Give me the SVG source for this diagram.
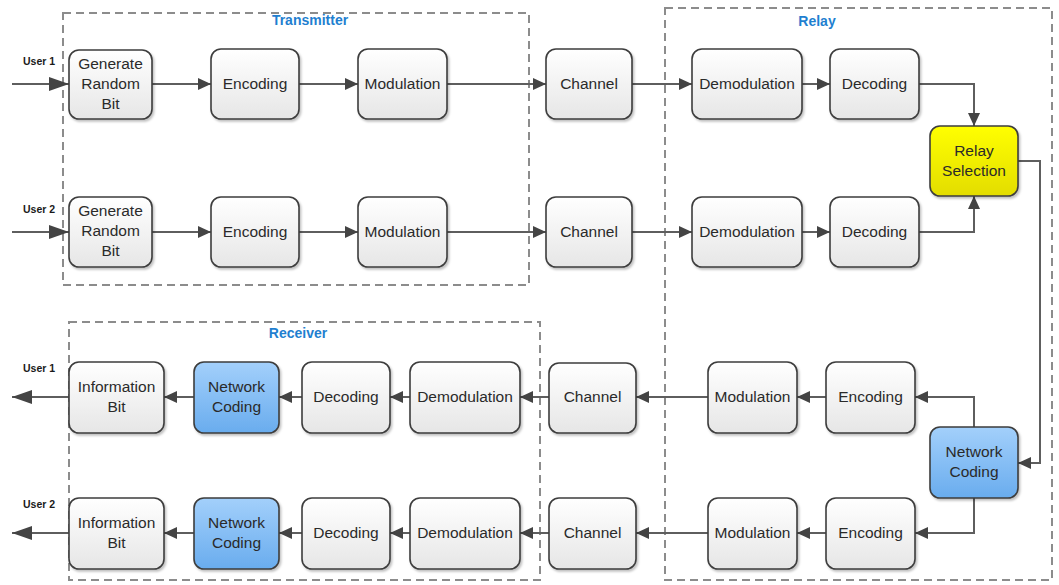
<svg xmlns="http://www.w3.org/2000/svg" width="1059" height="585" viewBox="0 0 1059 585">
<defs>
<linearGradient id="gGrey" x1="0" y1="0" x2="0" y2="1"><stop offset="0" stop-color="#ffffff"/><stop offset="1" stop-color="#e6e6e6"/></linearGradient>
<linearGradient id="gBlue" x1="0" y1="0" x2="0" y2="1"><stop offset="0" stop-color="#a3d0fb"/><stop offset="1" stop-color="#69acee"/></linearGradient>
<linearGradient id="gYellow" x1="0" y1="0" x2="0" y2="1"><stop offset="0" stop-color="#ffff00"/><stop offset="1" stop-color="#e3dd00"/></linearGradient>
<filter id="sh" x="-10%" y="-10%" width="130%" height="130%"><feDropShadow dx="1.5" dy="2" stdDeviation="1.2" flood-color="#000" flood-opacity="0.25"/></filter>
<marker id="arr" markerUnits="userSpaceOnUse" markerWidth="13" markerHeight="12" refX="13" refY="6" orient="auto"><path d="M0,0 L13,6 L0,12 z" fill="#444"/></marker>
<marker id="arrBig" markerUnits="userSpaceOnUse" markerWidth="20" markerHeight="14" refX="20" refY="7" orient="auto"><path d="M0,0 L20,7 L0,14 z" fill="#444"/></marker>
</defs>
<style>
.box{stroke:#3d3d3d;stroke-width:1.6;filter:url(#sh)}
.g{fill:url(#gGrey)}
.b{fill:url(#gBlue)}
.y{fill:url(#gYellow)}
.t{font-family:"Liberation Sans",Arial,sans-serif;font-size:15.5px;fill:#2a2a2a;text-anchor:middle}
.grp{fill:none;stroke:#8c8c8c;stroke-width:2;stroke-dasharray:8,5}
.ttl{font-family:"Liberation Sans",Arial,sans-serif;font-size:14px;font-weight:bold;fill:#1f7fd0;text-anchor:middle}
.usr{font-family:"Liberation Sans",Arial,sans-serif;font-size:10.5px;font-weight:bold;fill:#1a1a1a}
.c{fill:none;stroke:#5e5e5e;stroke-width:2;marker-end:url(#arr)}
.cb{fill:none;stroke:#5e5e5e;stroke-width:2;marker-end:url(#arrBig)}
</style>
<rect width="1059" height="585" fill="#ffffff"/>

<g id="groups">
<rect class="grp" x="63" y="13" width="466" height="272"/>
<text class="ttl" x="310" y="25">Transmitter</text>
<rect class="grp" x="665" y="8" width="387" height="572"/>
<text class="ttl" x="817" y="26">Relay</text>
<rect class="grp" x="69" y="322" width="471" height="258"/>
<text class="ttl" x="298" y="338">Receiver</text>
<text class="usr" x="23" y="65">User 1</text>
<text class="usr" x="23" y="213">User 2</text>
<text class="usr" x="23" y="372">User 1</text>
<text class="usr" x="23" y="508">User 2</text>
</g>

<g id="connectors">
<path class="cb" d="M12,84 H69"/>
<path class="c" d="M152,84 H211"/>
<path class="c" d="M299,84 H358"/>
<path class="c" d="M447,84 H546"/>
<path class="c" d="M632,84 H692"/>
<path class="c" d="M802,84 H830"/>
<path class="c" d="M919,84 H974 V126"/>
<path class="cb" d="M12,232 H69"/>
<path class="c" d="M152,232 H211"/>
<path class="c" d="M299,232 H358"/>
<path class="c" d="M447,232 H546"/>
<path class="c" d="M632,232 H692"/>
<path class="c" d="M802,232 H830"/>
<path class="c" d="M919,232 H974 V196"/>
<path class="c" d="M1018,161 H1040 V463 H1018"/>
<path class="c" d="M974,427 V397 H915"/>
<path class="c" d="M974,498 V533 H915"/>
<path class="c" d="M826,397 H797"/>
<path class="c" d="M708,397 H636"/>
<path class="c" d="M549,397 H520"/>
<path class="c" d="M410,397 H390"/>
<path class="c" d="M302,397 H279"/>
<path class="c" d="M194,397 H164"/>
<path class="cb" d="M69,397 H12"/>
<path class="c" d="M826,533 H797"/>
<path class="c" d="M708,533 H636"/>
<path class="c" d="M549,533 H520"/>
<path class="c" d="M410,533 H390"/>
<path class="c" d="M302,533 H279"/>
<path class="c" d="M194,533 H164"/>
<path class="cb" d="M69,533 H12"/>
</g>

<g id="tx1-gen"><rect class="box g" x="69" y="50" width="83" height="69" rx="10"/><text class="t" x="110.5" y="69">Generate</text><text class="t" x="110.5" y="89">Random</text><text class="t" x="110.5" y="109">Bit</text></g>
<g id="tx1-enc"><rect class="box g" x="211" y="49" width="88" height="70" rx="10"/><text class="t" x="255" y="89">Encoding</text></g>
<g id="tx1-mod"><rect class="box g" x="358" y="49" width="89" height="70" rx="10"/><text class="t" x="402.5" y="89">Modulation</text></g>
<g id="ch1"><rect class="box g" x="546" y="49" width="86" height="70" rx="10"/><text class="t" x="589" y="89">Channel</text></g>
<g id="r1-demod"><rect class="box g" x="692" y="49" width="110" height="70" rx="10"/><text class="t" x="747" y="89">Demodulation</text></g>
<g id="r1-dec"><rect class="box g" x="830" y="49" width="89" height="70" rx="10"/><text class="t" x="874.5" y="89">Decoding</text></g>

<g id="tx2-gen"><rect class="box g" x="69" y="197" width="83" height="70" rx="10"/><text class="t" x="110.5" y="216">Generate</text><text class="t" x="110.5" y="236">Random</text><text class="t" x="110.5" y="256">Bit</text></g>
<g id="tx2-enc"><rect class="box g" x="211" y="197" width="88" height="70" rx="10"/><text class="t" x="255" y="237">Encoding</text></g>
<g id="tx2-mod"><rect class="box g" x="358" y="197" width="89" height="70" rx="10"/><text class="t" x="402.5" y="237">Modulation</text></g>
<g id="ch2"><rect class="box g" x="546" y="197" width="86" height="70" rx="10"/><text class="t" x="589" y="237">Channel</text></g>
<g id="r2-demod"><rect class="box g" x="692" y="197" width="110" height="70" rx="10"/><text class="t" x="747" y="237">Demodulation</text></g>
<g id="r2-dec"><rect class="box g" x="830" y="197" width="89" height="70" rx="10"/><text class="t" x="874.5" y="237">Decoding</text></g>

<g id="relay-sel"><rect class="box y" x="930" y="126" width="88" height="70" rx="10"/><text class="t" x="974" y="156">Relay</text><text class="t" x="974" y="176">Selection</text></g>
<g id="relay-nc"><rect class="box b" x="930" y="427" width="88" height="71" rx="10"/><text class="t" x="974" y="457">Network</text><text class="t" x="974" y="477">Coding</text></g>

<g id="r3-enc"><rect class="box g" x="826" y="362" width="89" height="71" rx="10"/><text class="t" x="870.5" y="402">Encoding</text></g>
<g id="r3-mod"><rect class="box g" x="708" y="362" width="89" height="71" rx="10"/><text class="t" x="752.5" y="402">Modulation</text></g>
<g id="ch3"><rect class="box g" x="549" y="363" width="87" height="70" rx="10"/><text class="t" x="592.5" y="402">Channel</text></g>
<g id="rx1-demod"><rect class="box g" x="410" y="362" width="110" height="71" rx="10"/><text class="t" x="465" y="402">Demodulation</text></g>
<g id="rx1-dec"><rect class="box g" x="302" y="362" width="88" height="71" rx="10"/><text class="t" x="346" y="402">Decoding</text></g>
<g id="rx1-nc"><rect class="box b" x="194" y="362" width="85" height="71" rx="10"/><text class="t" x="236.5" y="392">Network</text><text class="t" x="236.5" y="412">Coding</text></g>
<g id="rx1-info"><rect class="box g" x="69" y="362" width="95" height="71" rx="10"/><text class="t" x="116.5" y="392">Information</text><text class="t" x="116.5" y="412">Bit</text></g>

<g id="r4-enc"><rect class="box g" x="826" y="498" width="89" height="71" rx="10"/><text class="t" x="870.5" y="538">Encoding</text></g>
<g id="r4-mod"><rect class="box g" x="708" y="498" width="89" height="71" rx="10"/><text class="t" x="752.5" y="538">Modulation</text></g>
<g id="ch4"><rect class="box g" x="549" y="498" width="87" height="71" rx="10"/><text class="t" x="592.5" y="538">Channel</text></g>
<g id="rx2-demod"><rect class="box g" x="410" y="498" width="110" height="71" rx="10"/><text class="t" x="465" y="538">Demodulation</text></g>
<g id="rx2-dec"><rect class="box g" x="302" y="498" width="88" height="71" rx="10"/><text class="t" x="346" y="538">Decoding</text></g>
<g id="rx2-nc"><rect class="box b" x="194" y="498" width="85" height="71" rx="10"/><text class="t" x="236.5" y="528">Network</text><text class="t" x="236.5" y="548">Coding</text></g>
<g id="rx2-info"><rect class="box g" x="69" y="498" width="95" height="71" rx="10"/><text class="t" x="116.5" y="528">Information</text><text class="t" x="116.5" y="548">Bit</text></g>
</svg>
